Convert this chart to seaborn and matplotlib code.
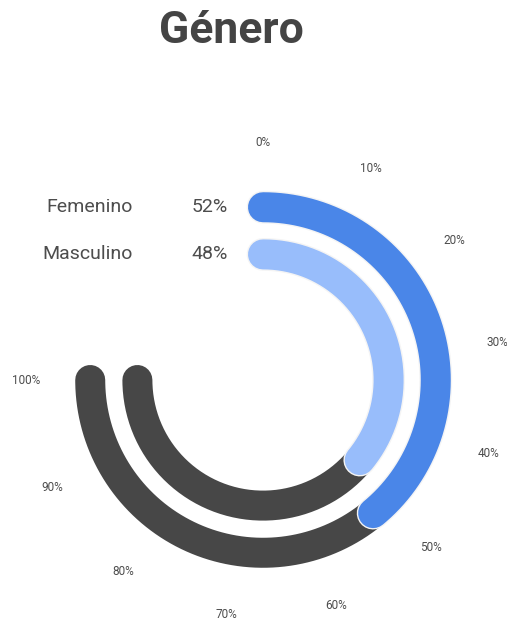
import matplotlib
matplotlib.use("Agg")
import matplotlib.pyplot as plt
import matplotlib.patheffects as pe
import seaborn as sns
import numpy as np

# data
categories = ["Femenino", "Masculino"]
values = [52, 48]
tick_pcts = [0, 10, 20, 30, 40, 50, 60, 70, 80, 90, 100]
tick_labels = ["%d%%" % p for p in tick_pcts]

ring_colors = ["#4a86e8", "#98bdfb"]
track_color = "#474747"
ring_radii = [0.729, 0.530]
SWEEP = 270.0

sns.set_theme(style="white")
plt.rcParams["font.family"] = ["Roboto", "DejaVu Sans"]


def pct_to_theta(p):
    return np.deg2rad(np.asarray(p, dtype=float) / 100.0 * SWEEP)


W, H = 507, 620
cx, cy, R = 263, 380, 237
fig = plt.figure(figsize=(W / 100, H / 100), dpi=100)
ax = fig.add_axes([(cx - R) / W, (H - cy - R) / H, 2 * R / W, 2 * R / H], projection="polar")
ax.set_theta_zero_location("N")
ax.set_theta_direction(-1)
ax.set_ylim(0, 1)
ax.axis("off")

lw = 30 * 72 / 100

# gray tracks first, then value arcs on top
for r in ring_radii:
    th = pct_to_theta(np.linspace(0, 100, 300))
    sns.lineplot(x=th, y=np.full_like(th, r), ax=ax, color=track_color, linewidth=lw,
                 solid_capstyle="round", sort=False, estimator=None)

for cat, val, r, col in zip(categories, values, ring_radii, ring_colors):
    th = pct_to_theta(np.linspace(0, val, 300))
    sns.lineplot(x=th, y=np.full_like(th, r), ax=ax, color=col, linewidth=lw,
                 solid_capstyle="round", sort=False, estimator=None,
                 path_effects=[pe.Stroke(linewidth=lw + 2, foreground="#f4f4f4"), pe.Normal()])
    ax.annotate(cat, xy=(0, r), xytext=(-130, 0), textcoords="offset pixels",
                ha="right", va="center", fontsize=14, color="#4d4d4d")
    ax.annotate("%d%%" % val, xy=(0, r), xytext=(-35, 0), textcoords="offset pixels",
                ha="right", va="center", fontsize=14, color="#4d4d4d")

for p, lab in zip(tick_pcts, tick_labels):
    ax.text(pct_to_theta(p), 1.0, lab, ha="center", va="center", fontsize=8.5,
            color="#4d4d4d", clip_on=False)

fig.text(231 / W, 1 - 31 / H, "Género", ha="center", va="center", fontsize=32,
         fontweight="bold", color="#444444")

fig.savefig("out.png", dpi=100, facecolor="white")
